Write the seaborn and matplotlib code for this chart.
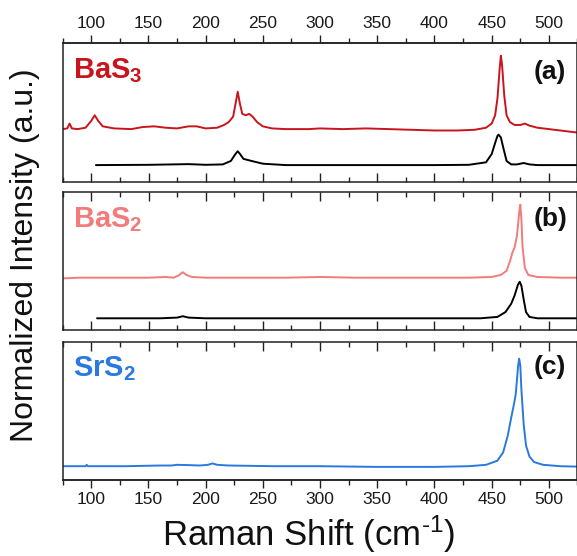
import matplotlib
matplotlib.use("Agg")
import matplotlib.pyplot as plt
from matplotlib.ticker import MultipleLocator
import seaborn as sns
import pandas as pd

# ---------------- data (normalized units) ----------------
bas3_x = [75, 79, 81, 83, 88, 95, 100, 103, 106, 110, 120, 135, 145, 155, 165, 175, 185, 192,
          200, 210, 216, 220, 224, 226, 228, 230, 232, 235, 238, 241, 245, 250, 258, 270, 290,
          300, 320, 340, 360, 380, 400, 420, 435, 445, 450, 453, 455, 457, 458, 459, 461, 463,
          466, 470, 475, 479, 483, 490, 500, 510, 520, 525]
bas3_y = [0.38, 0.385, 0.42, 0.385, 0.38, 0.39, 0.44, 0.48, 0.44, 0.40, 0.385, 0.38, 0.395, 0.40,
          0.39, 0.385, 0.40, 0.40, 0.385, 0.39, 0.41, 0.43, 0.47, 0.56, 0.65, 0.56, 0.49, 0.48,
          0.49, 0.47, 0.43, 0.40, 0.385, 0.38, 0.38, 0.385, 0.38, 0.385, 0.38, 0.375, 0.37, 0.37,
          0.375, 0.39, 0.42, 0.48, 0.60, 0.82, 0.91, 0.85, 0.62, 0.48, 0.43, 0.41, 0.41, 0.42,
          0.405, 0.39, 0.38, 0.37, 0.36, 0.355]

ref_a_x = [104, 150, 185, 200, 215, 222, 226, 228, 230, 233, 240, 250, 270, 300, 350, 400, 430,
           445, 450, 453, 455, 456, 458, 460, 463, 467, 472, 478, 483, 490, 525]
ref_a_y = [0.12, 0.122, 0.127, 0.122, 0.125, 0.15, 0.20, 0.22, 0.20, 0.165, 0.15, 0.13, 0.12,
           0.12, 0.12, 0.12, 0.122, 0.14, 0.20, 0.28, 0.33, 0.34, 0.32, 0.25, 0.15, 0.125, 0.125,
           0.135, 0.125, 0.12, 0.12]

bas2_x = [75, 90, 120, 150, 165, 172, 176, 180, 183, 188, 200, 240, 270, 300, 330, 360, 400,
          430, 450, 458, 463, 466, 468, 470, 472, 474, 475, 476, 477, 479, 482, 490, 510, 525]
bas2_y = [0.375, 0.38, 0.38, 0.38, 0.385, 0.38, 0.395, 0.42, 0.40, 0.385, 0.38, 0.38, 0.38,
          0.385, 0.38, 0.38, 0.38, 0.38, 0.385, 0.40, 0.43, 0.50, 0.56, 0.60, 0.68, 0.85, 0.91,
          0.80, 0.60, 0.45, 0.40, 0.385, 0.38, 0.38]

ref_b_x = [105, 160, 175, 180, 185, 200, 440, 455, 462, 467, 470, 473, 474.5, 476, 478, 480,
           483, 490, 525]
ref_b_y = [0.085, 0.085, 0.09, 0.10, 0.09, 0.085, 0.085, 0.095, 0.13, 0.19, 0.25, 0.33, 0.35,
           0.32, 0.22, 0.13, 0.095, 0.085, 0.085]

srs2_x = [75, 95, 96, 97, 130, 160, 170, 175, 185, 195, 202, 206, 210, 220, 260, 300, 350, 400,
          430, 445, 455, 460, 464, 467, 469, 471, 473, 474, 475, 476, 478, 480, 483, 487, 495,
          510, 525]
srs2_y = [0.10, 0.10, 0.11, 0.10, 0.10, 0.105, 0.105, 0.11, 0.108, 0.105, 0.11, 0.12, 0.11,
          0.105, 0.10, 0.10, 0.095, 0.095, 0.10, 0.11, 0.14, 0.20, 0.32, 0.45, 0.53, 0.62, 0.82,
          0.88, 0.83, 0.65, 0.40, 0.25, 0.17, 0.13, 0.11, 0.10, 0.097]

panel_names = [r"BaS$_\mathbf{3}$", r"BaS$_\mathbf{2}$", r"SrS$_\mathbf{2}$"]
panel_tags = ["(a)", "(b)", "(c)"]
tick_values = [100, 150, 200, 250, 300, 350, 400, 450, 500]

RED = "#c8151d"
PINK = "#f27b7b"
BLUE = "#2a79e0"
INK = "#222222"

# ---------------- style ----------------
sns.set_style("ticks")
plt.rcParams["font.family"] = ["Liberation Sans", "DejaVu Sans"]
plt.rcParams["mathtext.fontset"] = "custom"
plt.rcParams["mathtext.rm"] = "Liberation Sans"
plt.rcParams["mathtext.bf"] = "Liberation Sans:bold"
plt.rcParams["mathtext.it"] = "Liberation Sans:italic"
plt.rcParams["xtick.minor.visible"] = True

fig = plt.figure(figsize=(5.77, 5.56), dpi=100)
W, H = 577.0, 556.0
left = 62.7 / W
width = (577.5 - 62.7) / W
rects = [(43.3, 181.7), (192.3, 330.0), (342.0, 480.0)]
axes = []
for top, bot in rects:
    ax = fig.add_axes([left, (H - bot) / H, width, (bot - top) / H])
    axes.append(ax)

series = [
    [(ref_a_x, ref_a_y, "black"), (bas3_x, bas3_y, RED)],
    [(ref_b_x, ref_b_y, "black"), (bas2_x, bas2_y, PINK)],
    [(srs2_x, srs2_y, BLUE)],
]
name_colors = [RED, PINK, BLUE]
tag_y = [0.79, 0.805, 0.82]


def style_outer(sec, labels):
    sec.xaxis.set_major_locator(MultipleLocator(50))
    sec.xaxis.set_minor_locator(MultipleLocator(25))
    sec.set_xticks(tick_values)
    sec.set_xticklabels([str(v) for v in labels], fontsize=12.5, color="#1a1a1a")
    sec.tick_params(axis="x", which="major", direction="out", length=6, width=1.0,
                    pad=3, color=INK)
    sec.tick_params(axis="x", which="minor", direction="out", length=3.5, width=1.0,
                    color=INK)
    sec.xaxis.set_minor_locator(MultipleLocator(25))
    for s in sec.spines.values():
        s.set_linewidth(1.1)
        s.set_color(INK)


for i, ax in enumerate(axes):
    for xs, ys, col in series[i]:
        df = pd.DataFrame({"shift": xs, "intensity": ys})
        sns.lineplot(data=df, x="shift", y="intensity", ax=ax, color=col,
                     linewidth=1.4, estimator=None, sort=False)
    ax.set_xlim(75, 525)
    ax.set_ylim(0, 1)
    ax.set_xlabel("")
    ax.set_ylabel("")
    ax.set_yticks([])
    ax.tick_params(axis="y", which="both", left=False, right=False)
    ax.xaxis.set_major_locator(MultipleLocator(50))
    ax.xaxis.set_minor_locator(MultipleLocator(25))
    for s in ax.spines.values():
        s.set_linewidth(1.1)
        s.set_color(INK)
    ax.tick_params(axis="x", which="both", top=True, bottom=True, direction="in",
                   labelbottom=False, labeltop=False, width=1.0, color=INK)
    ax.tick_params(axis="x", which="major", length=6.5)
    ax.tick_params(axis="x", which="minor", length=3.5)
    ax.text(0.02, 0.75, panel_names[i], transform=ax.transAxes, color=name_colors[i],
            fontsize=21, fontweight="bold", ha="left", va="baseline")
    ax.text(0.947, tag_y[i], panel_tags[i], transform=ax.transAxes, color="#111111",
            fontsize=19, fontweight="bold", ha="center", va="center")

# outer edges: outward ticks with labels
axes[0].tick_params(axis="x", which="both", top=False)
sec_top = axes[0].secondary_xaxis("top")
style_outer(sec_top, tick_values)

axes[2].tick_params(axis="x", which="both", bottom=False)
sec_bot = axes[2].secondary_xaxis("bottom")
style_outer(sec_bot, tick_values)

fig.text(0.535, (H - 534) / H, "Raman Shift (cm$^{\\mathregular{\u2010}1}$)", ha="center",
         va="center", fontsize=25, color="#111111")
fig.text(25 / W, (H - 255) / H, "Normalized Intensity (a.u.)", ha="center", va="center",
         rotation=90, fontsize=23, color="#111111")

fig.savefig("out.png", dpi=100)
